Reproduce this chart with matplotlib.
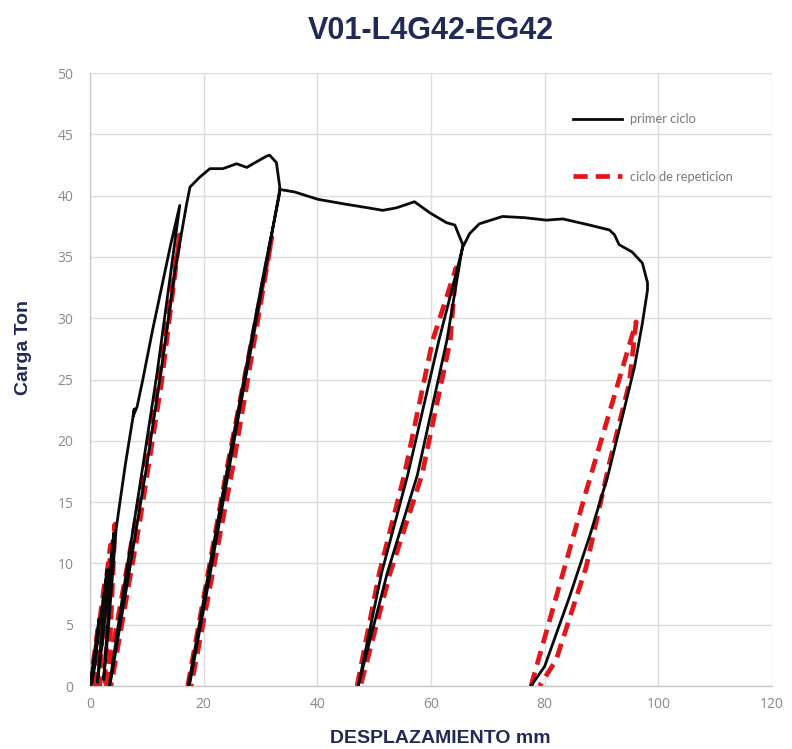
import matplotlib.pyplot as plt

# first cycle (black), one continuous path with its unload / reload loops
primer_x = [0.0, 0.8, 1.6, 1.0, 0.3, 1.4, 2.6, 3.0, 2.2, 1.3, 2.3, 3.6, 4.2, 3.4, 2.4,
            3.2, 4.6, 6.2, 7.8, 7.6, 8.3, 9.3, 11.0, 12.6, 14.2, 15.8,
            14.0, 11.8, 8.5, 5.8, 3.4, 3.6, 6.8, 10.0, 12.6, 15.0, 17.0, 17.6,
            19.3, 21.1, 23.4, 25.8, 27.6, 28.7, 31.0, 31.6, 32.8, 33.4,
            33.3, 30.5, 27.0, 23.0, 20.0, 17.3, 17.6, 20.5, 24.0, 27.5, 30.5, 33.4,
            36.0, 40.1, 45.0, 49.0, 51.5, 53.9, 57.1, 59.8, 62.7, 64.2, 65.6,
            62.8, 57.6, 52.3, 47.2, 51.3, 55.9, 61.4, 65.6,
            66.8, 68.5, 72.6, 76.5, 80.3, 83.2, 87.9, 91.4, 92.3, 93.1, 95.4, 97.2, 98.1,
            98.1, 97.2, 95.8, 93.7, 91.1, 87.9, 84.4, 80.0, 77.6]
primer_y = [0.0, 2.8, 5.5, 2.0, 0.2, 4.0, 8.0, 9.5, 5.0, 0.3, 4.0, 10.0, 12.5, 7.0, 0.5,
            4.5, 12.8, 18.0, 22.6, 22.0, 22.8, 25.0, 29.0, 32.5, 36.0, 39.2,
            33.0, 25.5, 15.5, 7.5, 0.0, 0.3, 9.0, 18.0, 26.0, 34.0, 39.3, 40.7,
            41.5, 42.2, 42.2, 42.6, 42.3, 42.6, 43.2, 43.3, 42.7, 40.7,
            40.0, 33.5, 24.8, 14.8, 7.0, 0.0, 0.3, 7.5, 16.5, 25.5, 33.0, 40.5,
            40.3, 39.7, 39.3, 39.0, 38.8, 39.0, 39.5, 38.6, 37.8, 37.6, 36.0,
            28.2, 17.2, 9.2, 0.0, 9.2, 17.2, 28.2, 35.8,
            36.9, 37.7, 38.3, 38.2, 38.0, 38.1, 37.6, 37.2, 36.8, 36.0, 35.4, 34.5, 32.9,
            32.3, 29.6, 26.0, 22.0, 17.1, 12.2, 7.3, 1.6, 0.0]

# repetition cycles (red dashed), one loop per list
rep_x = [
    [0.0, 1.5, 0.9],
    [0.2, 2.6, 1.7],
    [0.6, 3.6, 2.6],
    [1.0, 4.4, 3.2],
    [2.8, 8.0, 12.0, 15.8, 12.6, 8.8, 3.7],
    [17.2, 24.2, 32.0, 25.2, 17.8],
    [47.0, 50.9, 55.3, 60.3, 64.4, 63.4, 58.4, 52.8, 47.6],
    [77.6, 87.0, 96.1, 94.9, 91.4, 87.3, 82.0, 79.1],
]
rep_y = [
    [0.0, 5.0, 0.0],
    [0.0, 8.5, 0.0],
    [0.0, 11.5, 0.0],
    [0.0, 13.2, 0.0],
    [0.0, 13.5, 24.5, 36.8, 24.8, 13.5, 0.0],
    [0.0, 18.0, 36.6, 18.0, 0.0],
    [0.0, 9.2, 17.2, 28.2, 34.1, 28.2, 17.2, 9.2, 0.0],
    [0.0, 15.4, 29.7, 24.7, 18.2, 9.7, 2.1, 0.0],
]

x_ticks = [0, 20, 40, 60, 80, 100, 120]
y_ticks = [0, 5, 10, 15, 20, 25, 30, 35, 40, 45, 50]

navy = "#1f2a56"
red = "#e3161c"

fig = plt.figure(figsize=(7.92, 7.49), dpi=100)
ax = fig.add_axes([0.1136, 0.0841, 0.8611, 0.8184])

for i, (xs, ys) in enumerate(zip(rep_x, rep_y)):
    ax.plot(xs, ys, color=red, lw=3.4, dashes=(3, 1.7), dash_capstyle="butt",
            solid_joinstyle="round", zorder=3,
            label="ciclo de repeticion" if i == 0 else None)

ax.plot(primer_x, primer_y, color="#0a0a0a", lw=2.0, zorder=4, label="primer ciclo")

ax.set_xlim(0, 120)
ax.set_ylim(0, 50)
ax.set_xticks(x_ticks)
ax.set_yticks(y_ticks)
ax.grid(True, color="#dcdcdc", lw=1.0)
ax.set_axisbelow(True)
for side in ["top", "right"]:
    ax.spines[side].set_visible(False)
for side in ["left", "bottom"]:
    ax.spines[side].set_color("#c8c8c8")
    ax.spines[side].set_linewidth(1.0)
ax.tick_params(length=0, labelsize=10, labelcolor="#8a8a8a")
ax.tick_params(axis="y", pad=12)
ax.tick_params(axis="x", pad=8)
for lab in ax.get_xticklabels() + ax.get_yticklabels():
    lab.set_family("Open Sans")

ax.set_xlabel("DESPLAZAMIENTO mm", fontsize=14, fontweight="bold", color=navy,
              family="Liberation Sans", va="center")
ax.set_ylabel("Carga Ton", fontsize=14, fontweight="bold", color=navy,
              family="Liberation Sans", va="center")
ax.xaxis.set_label_coords(0.513, -0.085)
ax.yaxis.set_label_coords(-0.098, 0.553)

handles, labels = ax.get_legend_handles_labels()
order = [labels.index("primer ciclo"), labels.index("ciclo de repeticion")]
leg = ax.legend([handles[k] for k in order], [labels[k] for k in order],
                loc="upper left", bbox_to_anchor=(0.708, 0.934), frameon=False,
                borderpad=0, borderaxespad=0, handlelength=3.8, handletextpad=0.6,
                labelspacing=3.5, prop={"family": "Lato", "size": 9.3})
for t in leg.get_texts():
    t.set_color("#7a7a7a")

fig.text(0.544, 0.958, "V01-L4G42-EG42", ha="center", va="center", fontsize=22,
         fontweight="bold", color=navy, family="Liberation Sans")

fig.savefig("out.png", dpi=100)
